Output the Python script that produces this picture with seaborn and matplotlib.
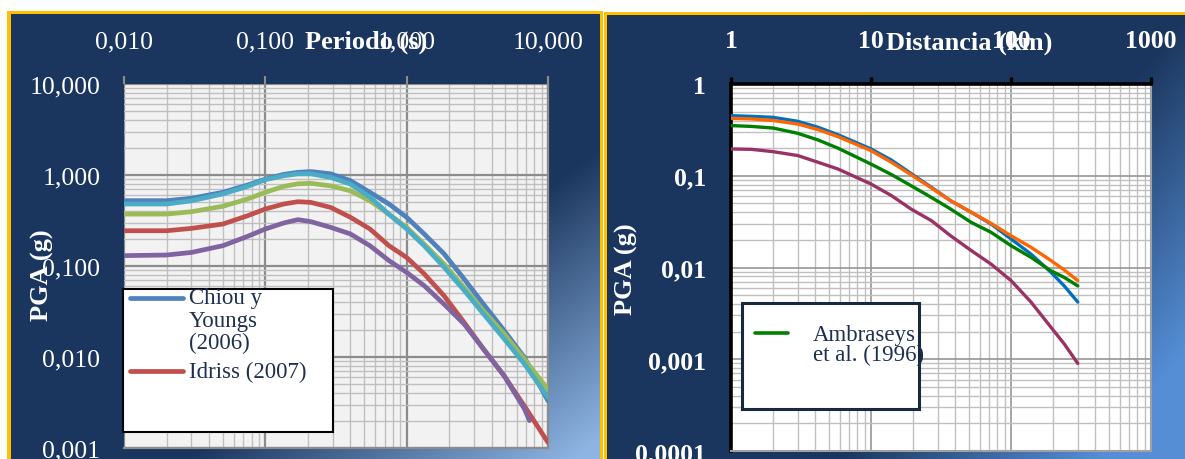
"""
Espectros de respuesta (PGA vs periodo) y atenuacion de PGA con la distancia.
"""

import numpy as np
import pandas as pd
import matplotlib
matplotlib.use("Agg")
import matplotlib.pyplot as plt
from matplotlib.patches import Rectangle
from matplotlib.lines import Line2D
from matplotlib.ticker import LogLocator, NullFormatter
import seaborn as sns

# ---- datos panel izquierdo: PGA (g) vs periodo (s) ----
periodos = [0.01, 0.02, 0.03, 0.05, 0.075, 0.1, 0.135, 0.17, 0.21, 0.29, 0.4, 0.55,
            0.75, 1.0, 1.33, 1.84, 2.55, 3.5, 4.9, 6.8, 10.0]
periodos_morada = [0.01, 0.02, 0.03, 0.05, 0.075, 0.1, 0.135, 0.17, 0.21, 0.29, 0.4, 0.55,
                   0.75, 1.0, 1.33, 1.84, 2.55, 3.5, 4.9, 6.8, 7.4]
chiou_youngs = [0.522, 0.522, 0.555, 0.645, 0.776, 0.90, 1.016, 1.07, 1.09, 1.03, 0.867,
                0.645, 0.48, 0.343, 0.225, 0.136, 0.072, 0.038, 0.0195, 0.0099, 0.0033]
idriss = [0.244, 0.244, 0.259, 0.289, 0.357, 0.423, 0.48, 0.509, 0.50, 0.44, 0.343,
          0.255, 0.167, 0.124, 0.082, 0.047, 0.024, 0.0122, 0.0062, 0.0029, 0.00115]
serie_verde = [0.372, 0.372, 0.395, 0.453, 0.545, 0.645, 0.75, 0.80, 0.81, 0.76, 0.67,
               0.52, 0.37, 0.266, 0.174, 0.105, 0.058, 0.032, 0.0179, 0.0095, 0.0044]
serie_morada = [0.13, 0.132, 0.141, 0.167, 0.212, 0.255, 0.297, 0.323, 0.307, 0.266, 0.225,
                0.167, 0.1145, 0.085, 0.0608, 0.038, 0.023, 0.0122, 0.0062, 0.0027, 0.002]
serie_cian = [0.48, 0.48, 0.52, 0.62, 0.75, 0.89, 0.98, 1.03, 1.03, 0.94, 0.795,
              0.57, 0.37, 0.255, 0.167, 0.097, 0.054, 0.0297, 0.0158, 0.0084, 0.0036]

# ---- datos panel derecho: PGA (g) vs distancia (km) ----
distancias = [1, 1.4, 2, 3, 4.2, 5.8, 10, 14, 19.3, 27, 37, 52, 72, 100, 139, 193, 240, 300]
serie_azul = [0.452, 0.444, 0.433, 0.392, 0.337, 0.28, 0.196, 0.148, 0.106, 0.0748, 0.0535,
              0.040, 0.0298, 0.0205, 0.014, 0.00886, 0.0063, 0.0042]
serie_naranja = [0.422, 0.416, 0.40, 0.366, 0.318, 0.267, 0.188, 0.14, 0.1027, 0.0736,
                 0.0535, 0.040, 0.0303, 0.0222, 0.0166, 0.0119, 0.0094, 0.0072]
ambraseys = [0.352, 0.345, 0.331, 0.29, 0.245, 0.20, 0.134, 0.103, 0.078, 0.058, 0.0434,
             0.031, 0.0242, 0.0173, 0.0129, 0.0092, 0.0078, 0.0063]
serie_magenta = [0.196, 0.194, 0.183, 0.166, 0.14, 0.1185, 0.0813, 0.0607, 0.0434, 0.0324,
                 0.0222, 0.0153, 0.0109, 0.0072, 0.0042, 0.00223, 0.00147, 0.0009]

izq_ticks_x = [0.01, 0.1, 1, 10]
izq_labels_x = ["0,010", "0,100", "1,000", "10,000"]
izq_ticks_y = [0.001, 0.01, 0.1, 1, 10]
izq_labels_y = ["0,001", "0,010", "0,100", "1,000", "10,000"]
der_ticks_x = [1, 10, 100, 1000]
der_labels_x = ["1", "10", "100", "1000"]
der_ticks_y = [0.0001, 0.001, 0.01, 0.1, 1]
der_labels_y = ["0,0001", "0,001", "0,01", "0,1", "1"]

sns.set_theme(style="white")
plt.rcParams["font.family"] = ["Liberation Serif", "DejaVu Serif"]

W, H = 1185, 460
fig = plt.figure(figsize=(W / 100, H / 100), dpi=100)

# fondo: dos paneles con degradado azul y borde amarillo
navy = np.array([27, 54, 94]) / 255
yy, xx = np.mgrid[0:H, 0:W]
img = np.ones((H, W, 3))


def degradado(x0, x1, y0, y1, claro, wy, t0, t1):
    u = (xx - x0) / (x1 - x0)
    v = (yy - y0) / (y1 - y0)
    t = np.clip((u + wy * v - t0) / (t1 - t0), 0, 1)[..., None]
    col = navy * (1 - t) + np.array(claro) / 255 * t
    mask = (xx >= x0) & (xx < x1) & (yy >= y0) & (yy < y1)
    img[mask] = col[mask]


amarillo = np.array([255, 192, 0]) / 255
img[12:, 7:603] = amarillo
img[13:, 604:] = amarillo
degradado(11, 600, 15, H, [141, 180, 226], 1.0, 1.3, 1.95)
degradado(607, W, 16, H, [85, 142, 213], 0.6, 1.0, 1.45)

bg = fig.add_axes([0, 0, 1, 1], zorder=-10)
bg.imshow(img, aspect="auto", interpolation="nearest")
bg.set_axis_off()

# ---------------- panel izquierdo ----------------
df_izq = pd.concat([
    pd.DataFrame({"periodo": p, "pga": v, "modelo": k})
    for k, p, v in [("Chiou y Youngs (2006)", periodos, chiou_youngs),
                    ("Idriss (2007)", periodos, idriss),
                    ("serie verde", periodos, serie_verde),
                    ("serie morada", periodos_morada, serie_morada),
                    ("serie cian", periodos, serie_cian)]
])
pal_izq = {"Chiou y Youngs (2006)": "#4F81BD", "Idriss (2007)": "#C0504D",
           "serie verde": "#9BBB59", "serie morada": "#8064A2", "serie cian": "#4BACC6"}

ax1 = fig.add_axes([124 / W, 1 - 449 / H, 424 / W, 364 / H])
ax1.set_facecolor("#F2F2F2")
sns.lineplot(data=df_izq, x="periodo", y="pga", hue="modelo", hue_order=list(pal_izq),
             palette=pal_izq, estimator=None, legend=False, lw=3.4, ax=ax1, zorder=3)
for ln in ax1.lines:
    ln.set_solid_capstyle("round")
    ln.set_solid_joinstyle("round")
ax1.set_xscale("log")
ax1.set_yscale("log")
ax1.set_xlim(0.01, 10)
ax1.set_ylim(0.001, 10)
ax1.xaxis.tick_top()
ax1.set_xticks(izq_ticks_x, izq_labels_x)
ax1.set_yticks(izq_ticks_y, izq_labels_y)
for axis in (ax1.xaxis, ax1.yaxis):
    axis.set_minor_locator(LogLocator(subs=np.arange(2, 10)))
    axis.set_minor_formatter(NullFormatter())
ax1.grid(True, which="major", color="#8C8C8C", lw=1.6)
ax1.grid(True, which="minor", color="#BFBFBF", lw=1.0)
ax1.tick_params(which="major", length=6, width=1.5, color="#8C8C8C", labelcolor="white",
                labelsize=18.5)
ax1.tick_params(axis="x", pad=17)
ax1.tick_params(axis="y", pad=11)
ax1.tick_params(which="minor", length=0)
for s in ax1.spines.values():
    s.set_color("#8C8C8C")
    s.set_linewidth(1.6)
ax1.spines["left"].set_visible(False)
ax1.spines["top"].set_visible(False)
ax1.xaxis.set_label_position("top")
ax1.set_xlabel("Periodo (s)", color="white", fontsize=19, fontweight="bold")
ax1.xaxis.label.set_va("center")
ax1.xaxis.set_label_coords(0.571, 1.118)
ax1.set_ylabel("PGA (g)", color="white", fontsize=19, fontweight="bold")
ax1.yaxis.label.set_va("center")
ax1.yaxis.set_label_coords(-0.193, 0.478)

# leyenda (recortada como en el original)
ax1.add_patch(Rectangle((-0.002, 0.044), 0.495, 0.393, transform=ax1.transAxes,
                        facecolor="white", edgecolor="black", lw=1.5, zorder=10,
                        clip_on=False))
ax1.add_line(Line2D([0.014, 0.139], [0.412, 0.412], transform=ax1.transAxes,
                    color=pal_izq["Chiou y Youngs (2006)"], lw=3.4, zorder=11,
                    solid_capstyle="round", clip_on=False))
ax1.add_line(Line2D([0.014, 0.139], [0.2115, 0.2115], transform=ax1.transAxes,
                    color=pal_izq["Idriss (2007)"], lw=3.4, zorder=11,
                    solid_capstyle="round", clip_on=False))
ax1.text(0.153, 0.442, "Chiou y\nYoungs\n(2006)", transform=ax1.transAxes, va="top",
         ha="left", fontsize=16.5, color="#1F2F50", linespacing=1.1, zorder=12)
ax1.text(0.153, 0.2115, "Idriss (2007)", transform=ax1.transAxes, va="center",
         ha="left", fontsize=16.5, color="#1F2F50", zorder=12)

# ---------------- panel derecho ----------------
df_der = pd.concat([
    pd.DataFrame({"distancia": distancias, "pga": v, "modelo": k})
    for k, v in [("serie azul", serie_azul), ("Ambraseys et al. (1996)", ambraseys),
                 ("serie magenta", serie_magenta), ("serie naranja", serie_naranja)]
])
pal_der = {"serie azul": "#0070C0", "Ambraseys et al. (1996)": "#008000",
           "serie magenta": "#993366", "serie naranja": "#FF6600"}

ax2 = fig.add_axes([731 / W, 1 - 452 / H, 420 / W, 367 / H])
ax2.set_facecolor("white")
sns.lineplot(data=df_der, x="distancia", y="pga", hue="modelo", hue_order=list(pal_der),
             palette=pal_der, estimator=None, legend=False, lw=2.4, ax=ax2, zorder=3)
for ln in ax2.lines:
    ln.set_solid_joinstyle("round")
ax2.set_xscale("log")
ax2.set_yscale("log")
ax2.set_xlim(1, 1000)
ax2.set_ylim(0.0001, 1)
ax2.xaxis.tick_top()
ax2.set_xticks(der_ticks_x, der_labels_x)
ax2.set_yticks(der_ticks_y, der_labels_y)
for axis in (ax2.xaxis, ax2.yaxis):
    axis.set_minor_locator(LogLocator(subs=np.arange(2, 10)))
    axis.set_minor_formatter(NullFormatter())
ax2.grid(True, which="major", color="#969696", lw=1.2)
ax2.grid(True, which="minor", color="#C0C0C0", lw=1.0)
ax2.tick_params(which="major", length=5, width=2.4, color="black", labelcolor="white",
                labelsize=18.5)
ax2.tick_params(axis="x", pad=18)
ax2.tick_params(axis="y", pad=13)
ax2.tick_params(which="minor", length=0)
for lab in ax2.get_xticklabels() + ax2.get_yticklabels():
    lab.set_fontweight("bold")
for s in ("bottom", "right"):
    ax2.spines[s].set_color("#A0A0A0")
    ax2.spines[s].set_linewidth(1.5)
for s in ("top", "left"):
    ax2.spines[s].set_color("black")
    ax2.spines[s].set_linewidth(2.6)
ax2.xaxis.set_label_position("top")
ax2.set_xlabel("Distancia (km)", color="white", fontsize=19, fontweight="bold")
ax2.xaxis.label.set_va("center")
ax2.xaxis.set_label_coords(0.567, 1.114)
ax2.set_ylabel("PGA (g)", color="white", fontsize=19, fontweight="bold")
ax2.yaxis.label.set_va("center")
ax2.yaxis.set_label_coords(-0.248, 0.499)

ax2.add_patch(Rectangle((0.027, 0.114), 0.421, 0.289, transform=ax2.transAxes,
                        facecolor="white", edgecolor="#17283F", lw=2.2, zorder=10))
ax2.add_line(Line2D([0.057, 0.136], [0.322, 0.322], transform=ax2.transAxes,
                    color=pal_der["Ambraseys et al. (1996)"], lw=2.6, zorder=11,
                    solid_capstyle="round"))
ax2.text(0.195, 0.347, "Ambraseys\net al. (1996)", transform=ax2.transAxes, va="top",
         ha="left", fontsize=16.5, color="#1F2F50", linespacing=0.98, zorder=12)

fig.savefig("out.png", dpi=100)
